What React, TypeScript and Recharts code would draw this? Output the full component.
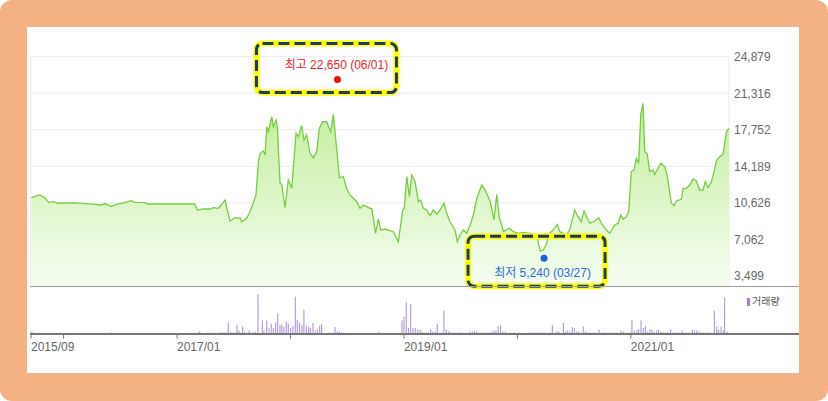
import React from "react";
import { ComposedChart, Area, XAxis, YAxis, CartesianGrid, ReferenceDot, BarChart, Bar } from "recharts";

// time is in decimal years
const priceDates = [
  2015.716, 2015.79, 2015.834, 2015.869, 2015.907, 2015.951, 2016.098, 2016.186, 2016.275, 2016.333,
  2016.363, 2016.421, 2016.465, 2016.539, 2016.597, 2016.627, 2016.715, 2016.744, 2017.156, 2017.179,
  2017.229, 2017.291, 2017.32, 2017.364, 2017.394, 2017.423, 2017.443, 2017.467, 2017.511, 2017.54,
  2017.555, 2017.57, 2017.614, 2017.643, 2017.673, 2017.696, 2017.717, 2017.732, 2017.761, 2017.776,
  2017.791, 2017.805, 2017.835, 2017.849, 2017.873, 2017.884, 2017.908, 2017.923, 2017.952, 2017.981,
  2018.011, 2018.049, 2018.069, 2018.099, 2018.119, 2018.143, 2018.172, 2018.201, 2018.231, 2018.254,
  2018.284, 2018.319, 2018.355, 2018.378, 2018.401, 2018.431, 2018.466, 2018.496, 2018.525, 2018.584,
  2018.613, 2018.642, 2018.672, 2018.701, 2018.716, 2018.75, 2018.774, 2018.795, 2018.833, 2018.907,
  2018.951, 2018.989, 2019.003, 2019.025, 2019.048, 2019.069, 2019.098, 2019.127, 2019.148, 2019.171,
  2019.201, 2019.23, 2019.259, 2019.289, 2019.318, 2019.353, 2019.377, 2019.406, 2019.45, 2019.471,
  2019.494, 2019.524, 2019.553, 2019.583, 2019.612, 2019.642, 2019.686, 2019.715, 2019.759, 2019.794,
  2019.818, 2019.841, 2019.862, 2019.876, 2019.9, 2019.929, 2019.964, 2020.008, 2020.052, 2020.111,
  2020.17, 2020.2, 2020.229, 2020.259, 2020.27, 2020.314, 2020.352, 2020.373, 2020.431, 2020.461,
  2020.505, 2020.534, 2020.564, 2020.587, 2020.616, 2020.638, 2020.682, 2020.717, 2020.74, 2020.784,
  2020.814, 2020.858, 2020.887, 2020.911, 2020.931, 2020.96, 2020.981, 2021.004, 2021.028, 2021.048,
  2021.069, 2021.087, 2021.107, 2021.122, 2021.143, 2021.166, 2021.196, 2021.21, 2021.24, 2021.263,
  2021.299, 2021.322, 2021.357, 2021.381, 2021.401, 2021.445, 2021.46, 2021.489, 2021.519, 2021.548,
  2021.577, 2021.607, 2021.636, 2021.656, 2021.68, 2021.709, 2021.733, 2021.753, 2021.783, 2021.812,
  2021.842, 2021.865,
];
const prices = [
  11130, 11400, 11130, 10680, 10740, 10590, 10620, 10560, 10490, 10420,
  10560, 10260, 10490, 10650, 10840, 10680, 10650, 10520, 10520, 9930,
  10030, 10030, 10160, 10100, 10490, 10910, 9930, 8860, 9180, 9120,
  9180, 8790, 9120, 9770, 10650, 11400, 14640, 15460, 15690, 15300,
  18050, 17570, 19030, 18050, 18710, 18050, 12540, 12440, 10160, 12860,
  12050, 17410, 17080, 18150, 16760, 17250, 15460, 15030, 15620, 17900,
  18540, 18540, 17570, 19260, 16590, 13080, 13180, 11980, 11400, 10740,
  10100, 10420, 10260, 10100, 10100, 7660, 9060, 7980, 8080, 7820,
  6840, 9930, 10100, 13180, 11230, 13350, 12690, 10740, 10910, 10100,
  9930, 9380, 9930, 9520, 9930, 10590, 9610, 8790, 7980, 6840,
  7500, 7980, 7660, 8470, 9450, 11070, 12370, 11880, 10810, 8960,
  11460, 9120, 8470, 7820, 7980, 8150, 7820, 7660, 7760, 7660,
  7500, 5940, 6030, 6690, 7500, 7980, 8540, 7820, 7500, 7980,
  9930, 9280, 8790, 9840, 9120, 8640, 8860, 9180, 8640, 7980,
  7660, 8470, 8640, 9450, 9060, 9280, 9770, 13670, 13830, 14970,
  14490, 19200, 20340, 15620, 15460, 13670, 13830, 13410, 14000, 14490,
  14160, 13180, 10590, 10350, 10810, 10980, 12050, 12050, 12370, 12960,
  12760, 11880, 11880, 12690, 12110, 12630, 13670, 14710, 15130, 15360,
  17570, 17900,
];

const volumeDates = [
  2015.72, 2015.73, 2016.421, 2017.185, 2017.2, 2017.273, 2017.317, 2017.376, 2017.39, 2017.405,
  2017.42, 2017.435, 2017.452, 2017.473, 2017.494, 2017.509, 2017.529, 2017.546, 2017.558, 2017.579,
  2017.597, 2017.617, 2017.637, 2017.655, 2017.673, 2017.69, 2017.714, 2017.752, 2017.767, 2017.791,
  2017.811, 2017.831, 2017.849, 2017.87, 2017.888, 2017.908, 2017.925, 2017.943, 2017.963, 2017.981,
  2018.002, 2018.022, 2018.043, 2018.06, 2018.081, 2018.102, 2018.119, 2018.14, 2018.161, 2018.178,
  2018.199, 2018.219, 2018.237, 2018.258, 2018.275, 2018.337, 2018.355, 2018.375, 2018.393, 2018.413,
  2018.434, 2018.454, 2018.472, 2018.78, 2018.983, 2019.001, 2019.021, 2019.042, 2019.06, 2019.08,
  2019.1, 2019.122, 2019.142, 2019.159, 2019.18, 2019.201, 2019.218, 2019.236, 2019.256, 2019.277,
  2019.294, 2019.315, 2019.336, 2019.353, 2019.374, 2019.395, 2019.412, 2019.433, 2019.453, 2019.471,
  2019.492, 2019.512, 2019.583, 2019.603, 2019.624, 2019.642, 2019.662, 2019.682, 2019.703, 2019.723,
  2019.741, 2019.759, 2019.776, 2019.794, 2019.812, 2019.832, 2019.853, 2019.873, 2019.894, 2019.935,
  2019.973, 2020.012, 2020.094, 2020.114, 2020.135, 2020.155, 2020.17, 2020.188, 2020.208, 2020.229,
  2020.246, 2020.288, 2020.308, 2020.329, 2020.349, 2020.367, 2020.405, 2020.423, 2020.444, 2020.464,
  2020.484, 2020.502, 2020.523, 2020.54, 2020.561, 2020.581, 2020.602, 2020.62, 2020.64, 2020.661,
  2020.682, 2020.699, 2020.72, 2020.737, 2020.758, 2020.779, 2020.816, 2020.837, 2020.858, 2020.876,
  2020.913, 2020.934, 2020.951, 2020.993, 2021.01, 2021.031, 2021.052, 2021.069, 2021.09, 2021.11,
  2021.128, 2021.149, 2021.169, 2021.187, 2021.207, 2021.228, 2021.245, 2021.266, 2021.286, 2021.304,
  2021.325, 2021.351, 2021.372, 2021.392, 2021.41, 2021.43, 2021.451, 2021.472, 2021.489, 2021.51,
  2021.542, 2021.56, 2021.581, 2021.601, 2021.619, 2021.639, 2021.66, 2021.68, 2021.698, 2021.736,
  2021.757, 2021.775, 2021.795, 2021.815, 2021.827, 2021.848,
];
const volumes = [
  2.3, 1.3, 1.3, 1.3, 2.3, 1.3, 1.3, 1.3, 1.3, 1.3,
  1.3, 1.3, 11, 2.3, 1.3, 1.3, 9, 3.3, 1.3, 7.3,
  2.3, 1.3, 3.3, 1.3, 1.3, 2.3, 39.7, 13.3, 3.3, 13.3,
  5.7, 10, 5.7, 11.3, 20.7, 9, 9, 6.7, 12.3, 10,
  5.7, 8, 37.3, 14, 11.3, 9, 24, 8, 6.7, 5.7,
  10.7, 3.3, 4.7, 8, 9.7, 1.3, 1.3, 1.3, 6.7, 2.3,
  2.3, 1.3, 1.3, 2.3, 13.3, 17.3, 31.7, 5.7, 29.7, 5.7,
  5.7, 4.3, 4.3, 2.3, 1.3, 1.3, 1.3, 4.7, 2.3, 2.3,
  9.7, 1.3, 1.3, 23, 4.3, 2.3, 1.3, 1.3, 1.3, 1.3,
  1.3, 1.3, 2.3, 2.3, 3.3, 2.3, 1.3, 1.3, 1.3, 1.3,
  1.3, 1.3, 2.3, 3.3, 3.3, 7.3, 8.3, 2.3, 2.3, 1.3,
  1.3, 1.3, 1.3, 1.3, 1.3, 1.3, 1.3, 1.3, 1.3, 1.3,
  1.3, 1.3, 8.7, 1.3, 2.3, 2.3, 10.7, 2.3, 3.3, 2.3,
  6.7, 5.7, 2.3, 2.3, 1.3, 7.3, 2.3, 1.3, 1.3, 1.3,
  1.3, 1.3, 4.3, 1.3, 1.3, 1.3, 1.3, 1.3, 1.3, 1.3,
  3.3, 2.3, 1.3, 1.3, 14, 3.3, 3.3, 4.7, 13.3, 5.7,
  8, 2.3, 4.7, 4.3, 2.3, 3.3, 4.3, 2.3, 1.3, 1.3,
  1.3, 4.3, 1.3, 1.3, 1.3, 1.3, 3.3, 1.3, 1.3, 1.3,
  4.3, 3.3, 3.3, 2.3, 1.3, 1.3, 1.3, 1.3, 1.3, 23,
  7.3, 4.3, 7.3, 3.3, 36.3, 2.3,
];

const priceTicks = [3499, 7062, 10626, 14189, 17752, 21316, 24879];
const timeTicks = [2015.713, 2016, 2017, 2018, 2019, 2020, 2021];
const timeTickLabels = ["2015/09", "", "2017/01", "", "2019/01", "", "2021/01"];

const high = { t: 2018.414, value: 22650, label: "최고 22,650 (06/01)" };
const low = { t: 2020.235, value: 5240, label: "최저 5,240 (03/27)" };

const priceData = priceDates.map((t, i) => ({ t, price: prices[i] }));
const volumeData = volumeDates.map((t, i) => ({ t, vol: volumes[i] }));

const FONT = "'Liberation Sans', 'Noto Sans CJK KR', sans-serif";
const X_DOMAIN = [2015.713, 2021.865];

const boxFrame = (x: number, y: number, w: number, h: number) => (
  <>
    <rect x={x} y={y} width={w} height={h} rx={6} fill="none" stroke="#ffff00" strokeWidth={6} />
    <rect x={x} y={y} width={w} height={h} rx={6} fill="none" stroke="#1f3b5c" strokeWidth={3} strokeDasharray="11 5" />
  </>
);

const HighMarker = (p: any) => {
  const { cx, cy } = p;
  return (
    <g>
      {boxFrame(cx - 81, cy - 36, 140, 49)}
      <text x={cx - 1} y={cy - 10.5} textAnchor="middle" fill="#ee2229" fontSize={12} fontFamily={FONT}>
        {high.label}
      </text>
      <circle cx={cx} cy={cy} r={3.5} fill="#f01010" />
    </g>
  );
};

const LowMarker = (p: any) => {
  const { cx, cy } = p;
  return (
    <g>
      {boxFrame(cx - 76, cy - 22, 137, 50)}
      <text x={cx - 1.5} y={cy + 19} textAnchor="middle" fill="#2b6fd3" fontSize={12} fontFamily={FONT}>
        {low.label}
      </text>
      <circle cx={cx} cy={cy} r={3.5} fill="#1a64d8" />
    </g>
  );
};

const TimeTick = (p: any) => {
  const { x, y, payload } = p;
  const idx = timeTicks.indexOf(payload.value);
  const label = idx >= 0 ? timeTickLabels[idx] : "";
  return (
    <text x={x} y={y} dy={9} textAnchor="start" fill="#666" fontSize={12} fontFamily={FONT}>
      {label}
    </text>
  );
};

export default function App() {
  return (
    <div style={{ position: "absolute", left: 0, top: 0, width: 828, height: 401, background: "#f4b183", borderRadius: 12, fontFamily: FONT }}>
      <div style={{ position: "absolute", left: 27, top: 27, width: 772, height: 346, background: "#fff" }} />

      <div style={{ position: "absolute", left: 0, top: 0 }}>
        <ComposedChart width={800} height={290} data={priceData} margin={{ top: 56.7, right: 1, bottom: 3.3, left: 31 }}>
          <defs>
            <linearGradient id="priceFill" x1="0" y1="0" x2="0" y2="1">
              <stop offset="0%" stopColor="#c2ee9c" />
              <stop offset="100%" stopColor="#f6fdf1" />
            </linearGradient>
          </defs>
          <CartesianGrid stroke="#ebebeb" strokeWidth={1} />
          <XAxis dataKey="t" type="number" domain={X_DOMAIN} ticks={timeTicks} interval={0} axisLine={false} tickLine={false} tick={false} height={0} />
          <YAxis
            orientation="right"
            width={70}
            domain={[2456, 24879]}
            ticks={priceTicks}
            interval={0}
            axisLine={false}
            tickLine={false}
            tickSize={0}
            tickMargin={5}
            tick={{ fill: "#6a6a6a", fontSize: 12, fontFamily: FONT }}
            tickFormatter={(v: number) => v.toLocaleString("en-US")}
          />
          <Area type="linear" dataKey="price" stroke="#76cd40" strokeWidth={1.3} fill="url(#priceFill)" fillOpacity={1} isAnimationActive={false} />
          <ReferenceDot x={high.t} y={high.value} ifOverflow="visible" shape={HighMarker} />
          <ReferenceDot x={low.t} y={low.value} ifOverflow="visible" shape={LowMarker} />
        </ComposedChart>
      </div>
      <div style={{ position: "absolute", left: 30, top: 286, width: 769, height: 1, background: "#9d9d9d" }} />

      <div style={{ position: "absolute", left: 0, top: 280 }}>
        <BarChart width={800} height={80} data={volumeData} margin={{ top: 7, right: 71, bottom: 0, left: 31 }}>
          <XAxis
            dataKey="t"
            type="number"
            domain={X_DOMAIN}
            ticks={timeTicks}
            interval={0}
            axisLine={false}
            tickLine={{ stroke: "#777" }}
            tickSize={5}
            tickMargin={3}
            height={26.3}
            tick={<TimeTick />}
          />
          <YAxis hide domain={[0, 47]} />
          <Bar dataKey="vol" fill="#a68ed8" barSize={1.5} isAnimationActive={false} />
        </BarChart>
      </div>
      <div style={{ position: "absolute", left: 30, top: 333, width: 769, height: 1.5, background: "#777" }} />

      <div style={{ position: "absolute", left: 747, top: 296, display: "flex", alignItems: "center", gap: 2 }}>
        <span style={{ display: "inline-block", width: 3, height: 8, background: "#9c80d0" }} />
        <span style={{ fontSize: 10, color: "#555", lineHeight: "12px" }}>거래량</span>
      </div>
    </div>
  );
}
